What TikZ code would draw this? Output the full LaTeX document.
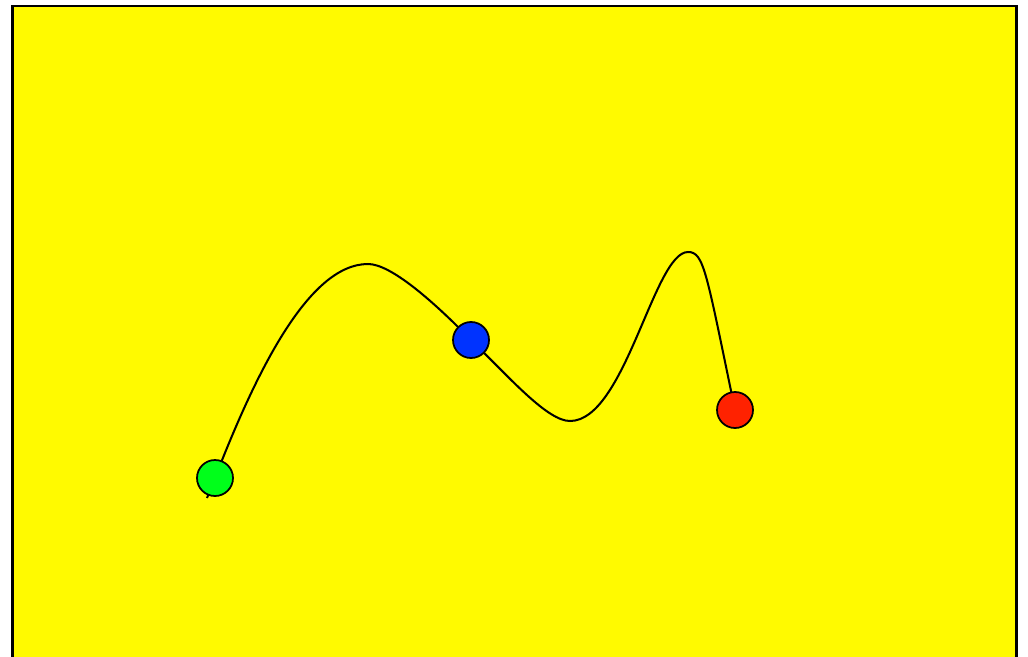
\documentclass[tikz,border=0pt]{standalone}
\usepackage{tikz}
\usetikzlibrary{calc}

\definecolor{paneyellow}{RGB}{255,250,0}
\definecolor{dotgreen}{RGB}{0,255,26}
\definecolor{dotblue}{RGB}{0,51,255}
\definecolor{dotred}{RGB}{255,34,0}

\begin{document}
\begin{tikzpicture}[
    frame/.style={draw=black, line width=1.4pt, fill=paneyellow},
    curve/.style={draw=black, line width=1.15pt},
    dot/.style={circle, draw=black, line width=1pt,
                minimum size=0.72cm, inner sep=0pt}
]
\useasboundingbox (0,0) rectangle (20.56,13.12);
\draw[frame] (0.25,-0.5) rectangle (20.33,13.0);

% points on the path
\coordinate (tail)  at (4.14,3.16);
\coordinate (g)     at (4.30,3.56);
\coordinate (top1)  at (7.36,7.84);
\coordinate (b)     at (9.42,6.32);
\coordinate (low)   at (11.40,4.70);
\coordinate (top2)  at (13.76,8.08);
\coordinate (r)     at (14.70,4.92);

\draw[curve] (tail) -- (g)
    .. controls (5.10,5.62) and (6.16,7.84) .. (top1)
    .. controls (7.81,7.84) and (8.64,7.12) .. (b)
    .. controls (10.21,5.55) and (10.95,4.70) .. (low)
    .. controls (12.50,4.70) and (13.08,8.08) .. (top2)
    .. controls (14.08,8.08) and (14.12,7.70) .. (r);

\node[dot, fill=dotgreen] (start) at (g) {};
\node[dot, fill=dotblue]  (mid)   at (b) {};
\node[dot, fill=dotred]   (end)   at (r) {};
\end{tikzpicture}
\end{document}
